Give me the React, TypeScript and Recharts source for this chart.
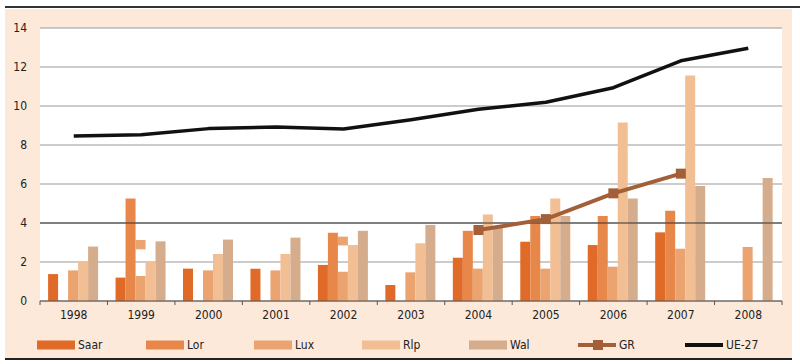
import React from 'react';
import { ComposedChart, Bar, Line, XAxis, YAxis, CartesianGrid, ReferenceLine } from 'recharts';

const years = ['1998', '1999', '2000', '2001', '2002', '2003', '2004', '2005', '2006', '2007', '2008'];
const saar = [1.38, 1.2, 1.66, 1.66, 1.85, 0.82, 2.22, 3.04, 2.87, 3.52, null];
const lor = [null, 5.26, null, null, 3.5, null, 3.6, 4.36, 4.36, 4.63, null];
const lux = [1.57, 1.28, 1.57, 1.57, 1.5, 1.47, 1.66, 1.66, 1.76, 2.68, 2.77];
const luxExtraLow = [null, 2.65, null, null, 2.85, null, null, null, null, null, null];
const luxExtraHigh = [null, 3.13, null, null, 3.3, null, null, null, null, null, null];
const rlp = [2.03, 2.03, 2.41, 2.41, 2.87, 2.96, 4.44, 5.26, 9.16, 11.57, null];
const wal = [2.79, 3.06, 3.15, 3.25, 3.6, 3.9, 3.81, 4.36, 5.26, 5.9, 6.31];
const gr = [null, null, null, null, null, null, 3.64, 4.2, 5.52, 6.53, null];
const ue27 = [8.46, 8.53, 8.84, 8.92, 8.82, 9.3, 9.83, 10.19, 10.94, 12.32, 12.96];
const yTicks = [0, 2, 4, 6, 8, 10, 12, 14];

const COLORS = {
  saar: '#e06a27',
  lor: '#e8874a',
  lux: '#eba370',
  rlp: '#f2bf94',
  wal: '#d5ad8d',
  gr: '#a35f38',
  ue27: '#111111',
};

const FONT = '"DejaVu Sans Condensed", "DejaVu Sans", sans-serif';
const textStyle = { fontStretch: 'condensed' as const };

const data = years.map((year, i) => ({
  year,
  saar: saar[i],
  lor: lor[i],
  lux: lux[i],
  luxGap: luxExtraLow[i] != null ? luxExtraLow[i]! - (lux[i] ?? 0) : null,
  luxTop: luxExtraHigh[i] != null ? luxExtraHigh[i]! - luxExtraLow[i]! : null,
  rlp: rlp[i],
  wal: wal[i],
  gr: gr[i],
  ue27: ue27[i],
}));

const YearTick = (props: any) => {
  const { x, y, payload } = props;
  const half = payload.offset ?? 33.7;
  const last = payload.value === years[years.length - 1];
  return (
    <g>
      <line x1={x - half} x2={x - half} y1={y} y2={y + 4} stroke="#555" strokeWidth={1} />
      {last && <line x1={x + half} x2={x + half} y1={y} y2={y + 4} stroke="#555" strokeWidth={1} />}
      <text x={x} y={y + 18} textAnchor="middle" fontSize={12} fill="#222" fontFamily={FONT} style={textStyle}>
        {payload.value}
      </text>
    </g>
  );
};

const SquareDot = (props: any) => {
  const { cx, cy, value } = props;
  if (value == null || cx == null || cy == null) return null;
  return <rect x={cx - 5} y={cy - 5} width={10} height={10} fill={COLORS.gr} />;
};

const legendItems = [
  { name: 'Saar', color: COLORS.saar, kind: 'box', left: 37 },
  { name: 'Lor', color: COLORS.lor, kind: 'box', left: 146 },
  { name: 'Lux', color: COLORS.lux, kind: 'box', left: 254 },
  { name: 'Rlp', color: COLORS.rlp, kind: 'box', left: 362 },
  { name: 'Wal', color: COLORS.wal, kind: 'box', left: 469 },
  { name: 'GR', color: COLORS.gr, kind: 'marker', left: 578 },
  { name: 'UE-27', color: COLORS.ue27, kind: 'line', left: 685 },
];

const Legend = () => (
  <>
    {legendItems.map((it) => (
      <div
        key={it.name}
        style={{ position: 'absolute', left: it.left, top: 336, height: 17, display: 'flex', alignItems: 'center' }}
      >
        <svg width={38} height={12} style={{ display: 'block' }}>
          {it.kind === 'box' && <rect x={0} y={1.5} width={38} height={9} fill={it.color} />}
          {it.kind === 'marker' && (
            <>
              <rect x={0} y={4} width={38} height={4} fill={it.color} />
              <rect x={15} y={1} width={10} height={10} fill={it.color} />
            </>
          )}
          {it.kind === 'line' && <rect x={0} y={4} width={38} height={4} fill={it.color} />}
        </svg>
        <span style={{ marginLeft: 3, fontSize: 12, color: '#222', fontFamily: FONT, ...textStyle }}>{it.name}</span>
      </div>
    ))}
  </>
);

const App: React.FC = () => {
  return (
    <div style={{ position: 'absolute', left: 0, top: 0, width: 800, height: 364, background: '#fff' }}>
      <div style={{ position: 'absolute', left: 5, top: 9, width: 787, height: 349, background: '#fce9da' }} />
      <div style={{ position: 'absolute', left: 5, top: 6, width: 795, height: 2, background: '#333' }} />
      <div style={{ position: 'absolute', left: 5, top: 358, width: 787, height: 2, background: '#222' }} />
      <div style={{ position: 'absolute', left: 0, top: 0 }}>
        <ComposedChart
          width={800}
          height={364}
          data={data}
          margin={{ top: 28, right: 18, bottom: 43, left: 0 }}
          barCategoryGap="12%"
          barGap={0}
        >
          <CartesianGrid vertical={false} stroke="#999" strokeWidth={1.2} fill="#fff" fillOpacity={1} />
          <XAxis
            dataKey="year"
            height={20}
            axisLine={{ stroke: '#555', strokeWidth: 1.2 }}
            tickLine={false}
            tickSize={0}
            tickMargin={0}
            interval={0}
            tick={<YearTick />}
          />
          <YAxis
            width={40}
            domain={[0, 14]}
            ticks={yTicks}
            axisLine={false}
            tickLine={false}
            tickSize={0}
            tickMargin={13}
            tick={{ fontSize: 12, fill: '#222', fontFamily: FONT, style: textStyle }}
          />
          <ReferenceLine y={4} stroke="#333" strokeWidth={1.2} />
          <Bar dataKey="saar" stackId="s1" fill={COLORS.saar} isAnimationActive={false} />
          <Bar dataKey="lor" stackId="s2" fill={COLORS.lor} isAnimationActive={false} />
          <Bar dataKey="lux" stackId="s3" fill={COLORS.lux} isAnimationActive={false} />
          <Bar dataKey="luxGap" stackId="s3" fill="transparent" isAnimationActive={false} />
          <Bar dataKey="luxTop" stackId="s3" fill={COLORS.lux} isAnimationActive={false} />
          <Bar dataKey="rlp" stackId="s4" fill={COLORS.rlp} isAnimationActive={false} />
          <Bar dataKey="wal" stackId="s5" fill={COLORS.wal} isAnimationActive={false} />
          <Line
            type="linear"
            dataKey="gr"
            stroke={COLORS.gr}
            strokeWidth={4}
            dot={<SquareDot />}
            activeDot={false}
            isAnimationActive={false}
          />
          <Line
            type="linear"
            dataKey="ue27"
            stroke={COLORS.ue27}
            strokeWidth={3.5}
            strokeLinejoin="round"
            dot={false}
            activeDot={false}
            isAnimationActive={false}
          />
        </ComposedChart>
      </div>
      <Legend />
    </div>
  );
};

export default App;
